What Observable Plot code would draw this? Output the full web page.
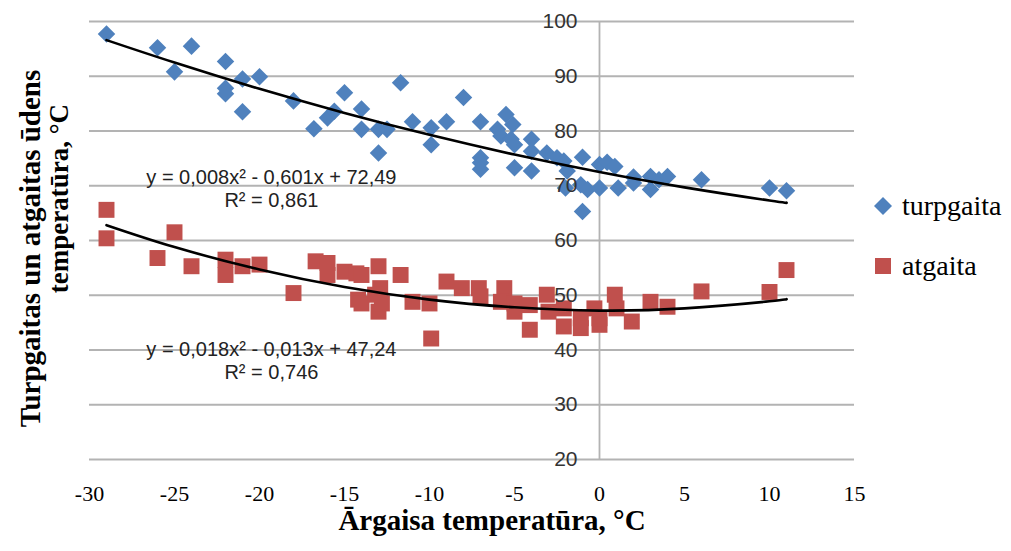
<!DOCTYPE html>
<html>
<head>
<meta charset="utf-8">
<script src="https://cdn.jsdelivr.net/npm/d3@7"></script>
<script src="https://cdn.jsdelivr.net/npm/@observablehq/plot@0.6"></script>
<style>
  html, body { margin: 0; padding: 0; background: #fff; }
  #wrap { position: relative; width: 1011px; height: 551px; }
  #legend { position: absolute; left: 872px; top: 191px; font-family: "Liberation Serif", "Times New Roman", serif; font-size: 28px; color: #000; }
  #legend .item { display: flex; align-items: center; height: 30px; margin-bottom: 30px; }
  #legend svg { margin-right: 8px; }
</style>
</head>
<body>
<div id="wrap"></div>
<script>
// ---- data ----
const xTicks = [-30, -25, -20, -15, -10, -5, 0, 5, 10, 15];
const yTicks = [20, 30, 40, 50, 60, 70, 80, 90, 100];

const seriesNames = ["turpgaita", "atgaita"];

const turpX = [-29, -26, -25, -24, -22, -22, -22, -21, -21, -20, -18, -16.8, -16, -15.6, -15, -14, -14, -13, -12.5, -13,
  -11.7, -11, -9.9, -9.9, -9, -8, -7, -7, -7, -7, -6, -5.8, -5.5, -5.1, -5.2, -5, -5, -4, -4, -4,
  -3.1, -2.5, -2.1, -1.9, -2, -1, -1.1, -0.7, -1, 0, 0.45, 0, 0.9, 1.1, 2, 2, 3, 3, 3.5, 4, 6, 10, 11];
const turpY = [97.7, 95.2, 90.8, 95.5, 92.7, 87.8, 86.8, 89.5, 83.5, 89.9, 85.5, 80.4, 82.4, 83.6, 87.0, 84.0, 80.3, 80.3, 80.3, 76.0,
  88.8, 81.7, 80.6, 77.5, 81.7, 86.1, 81.7, 75.1, 74.2, 73.0, 80.3, 79.1, 83.0, 81.2, 78.5, 77.5, 73.3, 78.5, 76.3, 72.7,
  76.0, 75.1, 74.5, 72.7, 69.6, 75.2, 70.2, 69.3, 65.3, 73.9, 74.3, 69.6, 73.5, 69.6, 71.6, 70.5, 71.7, 69.3, 71.1, 71.7, 71.1, 69.6, 69.1];

const atgX = [-29, -29, -25, -26, -24, -22, -22, -21, -20, -18, -16.7, -16, -16, -15, -14.3, -14.2, -14, -14, -13, -12.9,
  -13, -13.2, -12.8, -11.7, -11, -10, -9.9, -9, -8.1, -7.1, -7, -5.6, -5.8, -5, -5, -4.1, -4.1, -3.1, -3, -2.1,
  -2.1, -1.1, -1.1, -0.3, 0, 0, 0.9, 1, 1.9, 3, 4, 6, 10, 11];
const atgY = [65.6, 60.4, 61.5, 56.8, 55.3, 56.5, 53.7, 55.3, 55.6, 50.4, 56.2, 55.9, 53.7, 54.3, 54.0, 49.2, 53.7, 48.5, 55.3, 51.3,
  47.0, 50.1, 48.5, 53.7, 48.8, 48.5, 42.1, 52.5, 51.3, 51.3, 49.8, 51.3, 48.8, 48.5, 47.0, 48.2, 43.7, 50.1, 47.0, 47.6,
  44.3, 45.8, 44.0, 47.6, 44.6, 45.8, 50.1, 47.6, 45.2, 48.8, 47.9, 50.7, 50.6, 54.6];

// trend lines
const trendX = [-29, -25, -20, -15, -10, -5, 0, 5, 10, 11];
const turpTrendY = [96.6, 92.5, 87.7, 83.3, 79.3, 75.7, 72.5, 69.7, 67.3, 66.9];
const atgTrendY = [62.8, 58.8, 54.7, 51.5, 49.2, 47.8, 47.2, 47.6, 48.9, 49.3];

const turpEq = "y = 0,008x² - 0,601x + 72,49\nR² = 0,861";
const atgEq = "y = 0,018x² - 0,013x + 47,24\nR² = 0,746";

const xLabel = "Ārgaisa temperatūra, °C";
const yLabel1 = "Turpgaitas un atgaitas ūdens";
const yLabel2 = "temperatūra, °C";

// ---- build tables ----
const turp = turpX.map((x, i) => ({x, y: turpY[i]}));
const atg = atgX.map((x, i) => ({x, y: atgY[i]}));
const turpTrend = trendX.map((x, i) => ({x, y: turpTrendY[i]}));
const atgTrend = trendX.map((x, i) => ({x, y: atgTrendY[i]}));

const BLUE = "#4F81BD", RED = "#C0504D";
const serif = "'Liberation Serif', 'Times New Roman', serif";
const sans = "'Liberation Sans', Arial, sans-serif";

const chart = Plot.plot({
  width: 1011,
  height: 551,
  marginLeft: 89,
  marginRight: 157,
  marginTop: 21,
  marginBottom: 92,
  style: {background: "#fff", overflow: "visible"},
  x: {domain: [-30, 15], axis: null},
  y: {domain: [20, 100], axis: null},
  marks: [
    Plot.ruleY(yTicks, {stroke: "#b3b3b3", strokeWidth: 1.8}),
    Plot.ruleX([0], {stroke: "#b3b3b3", strokeWidth: 1.8}),
    Plot.axisX(xTicks, {tickSize: 0, tickPadding: 26, fontSize: 22, fontFamily: serif, fill: "#000", label: null, tickFormat: d => d}),
    Plot.dot(turp, {x: "x", y: "y", symbol: "diamond2", r: 7.9, fill: BLUE, stroke: "none"}),
    Plot.dot(atg, {x: "x", y: "y", symbol: "square", r: 9, fill: RED, stroke: "none"}),
    Plot.line(turpTrend, {x: "x", y: "y", curve: "natural", stroke: "#000", strokeWidth: 2.6}),
    Plot.line(atgTrend, {x: "x", y: "y", curve: "natural", stroke: "#000", strokeWidth: 2.6}),
    Plot.text(yTicks, {x: d => 0, y: d => d, text: d => String(d), dx: -22, textAnchor: "end", fontSize: 21, fontFamily: sans, fill: "#333"}),
    Plot.text([turpEq], {x: d => -19.3, y: d => 69.6, text: d => d, textAnchor: "middle", lineAnchor: "middle", lineHeight: 1.15, fontSize: 20, fontFamily: sans, fill: "#222"}),
    Plot.text([atgEq], {x: d => -19.3, y: d => 38.1, text: d => d, textAnchor: "middle", lineAnchor: "middle", lineHeight: 1.15, fontSize: 20, fontFamily: sans, fill: "#222"}),
    Plot.text([xLabel], {frameAnchor: "bottom", textAnchor: "middle", dx: 20, dy: 61, lineAnchor: "middle", fontSize: 29, fontWeight: "bold", fontFamily: serif, fill: "#000"}),
    Plot.text([yLabel1], {frameAnchor: "left", textAnchor: "middle", rotate: -90, dx: -59, dy: 8, lineAnchor: "middle", fontSize: 29, fontWeight: "bold", fontFamily: serif, fill: "#000"}),
    Plot.text([yLabel2], {frameAnchor: "left", textAnchor: "middle", rotate: -90, dx: -30, dy: -42, lineAnchor: "middle", fontSize: 27, fontWeight: "bold", fontFamily: serif, fill: "#000"})
  ]
});

const wrap = document.getElementById("wrap");
wrap.appendChild(chart);

// legend
const legend = document.createElement("div");
legend.id = "legend";
const symbols = {
  turpgaita: `<svg width="22" height="22" viewBox="-11 -11 22 22"><path d="M0,-9L9,0L0,9L-9,0Z" fill="${BLUE}"/></svg>`,
  atgaita: `<svg width="22" height="22" viewBox="-11 -11 22 22"><rect x="-8" y="-8" width="16" height="16" fill="${RED}"/></svg>`
};
seriesNames.forEach(name => {
  const item = document.createElement("div");
  item.className = "item";
  item.innerHTML = symbols[name] + `<span>${name}</span>`;
  legend.appendChild(item);
});
wrap.appendChild(legend);
</script>
</body>
</html>
